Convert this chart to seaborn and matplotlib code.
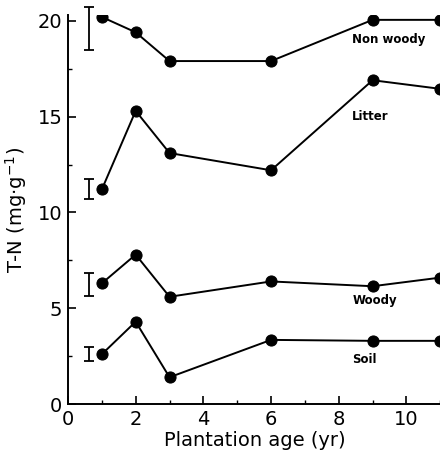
import matplotlib
matplotlib.use("Agg")
import matplotlib.pyplot as plt
import seaborn as sns
import pandas as pd
from matplotlib.ticker import MultipleLocator

sns.set_theme(style="ticks")
plt.rcParams['font.family'] = ['DejaVu Sans']
plt.rcParams['text.color'] = 'black'
plt.rcParams['axes.labelcolor'] = 'black'

ages = [1, 2, 3, 6, 9, 11]
non_woody = [20.2, 19.4, 17.9, 17.9, 20.05, 20.05]
litter = [11.2, 15.3, 13.1, 12.2, 16.9, 16.45]
woody = [6.3, 7.8, 5.6, 6.4, 6.15, 6.6]
soil = [2.6, 4.3, 1.4, 3.35, 3.3, 3.3]
series_names = ["Non woody", "Litter", "Woody", "Soil"]
series_values = [non_woody, litter, woody, soil]
# error bars (centre, half-range) shown at the left
err_center = [19.6, 11.2, 6.25, 2.62]
err_half = [1.1, 0.52, 0.6, 0.38]
err_x = 0.62
label_x = 8.4
label_y = [19.0, 15.0, 5.4, 2.35]

rows = []
for name, vals in zip(series_names, series_values):
    for a, v in zip(ages, vals):
        rows.append({"age": a, "tn": v, "series": name})
df = pd.DataFrame(rows)

fig = plt.figure(figsize=(4.4, 4.65), dpi=100)
ax = fig.add_axes([0.1545, 0.131, 0.85, 0.8366])

sns.lineplot(data=df, x="age", y="tn", hue="series", units="series", estimator=None,
             palette=["black"] * 4, marker="o", markersize=8, markeredgecolor="black",
             linewidth=1.4, legend=False, ax=ax)

eb = ax.errorbar([err_x] * 4, err_center, yerr=err_half, fmt="none", ecolor="black",
                 elinewidth=1.3, capsize=3.5, capthick=1.3)
for art in eb.lines[1] + eb.lines[2]:
    art.set_clip_on(False)

for name, ly in zip(series_names, label_y):
    ax.text(label_x, ly, name, fontsize=8.5, fontweight="bold", ha="left", va="center",
            color="black")

ax.set_xlim(0, 11.05)
ax.set_ylim(0, 20.3)
ax.xaxis.set_major_locator(MultipleLocator(2))
ax.xaxis.set_minor_locator(MultipleLocator(1))
ax.yaxis.set_major_locator(MultipleLocator(5))
ax.yaxis.set_minor_locator(MultipleLocator(2.5))
ax.tick_params(which="major", direction="in", length=6, width=1.2, labelsize=14,
               colors="black")
ax.tick_params(which="minor", direction="in", length=3, width=1.0, colors="black")
ax.tick_params(axis="x", pad=4)
ax.tick_params(axis="y", pad=4)
for s in ["top", "right"]:
    ax.spines[s].set_visible(False)
for s in ["left", "bottom"]:
    ax.spines[s].set_linewidth(1.4)
    ax.spines[s].set_color("black")

ax.set_xlabel("Plantation age (yr)", fontsize=14, labelpad=2, color="black")
ax.set_ylabel("T-N (mg·g$^{-1}$)", fontsize=14, labelpad=6, color="black")

fig.savefig("out.png", dpi=100)
